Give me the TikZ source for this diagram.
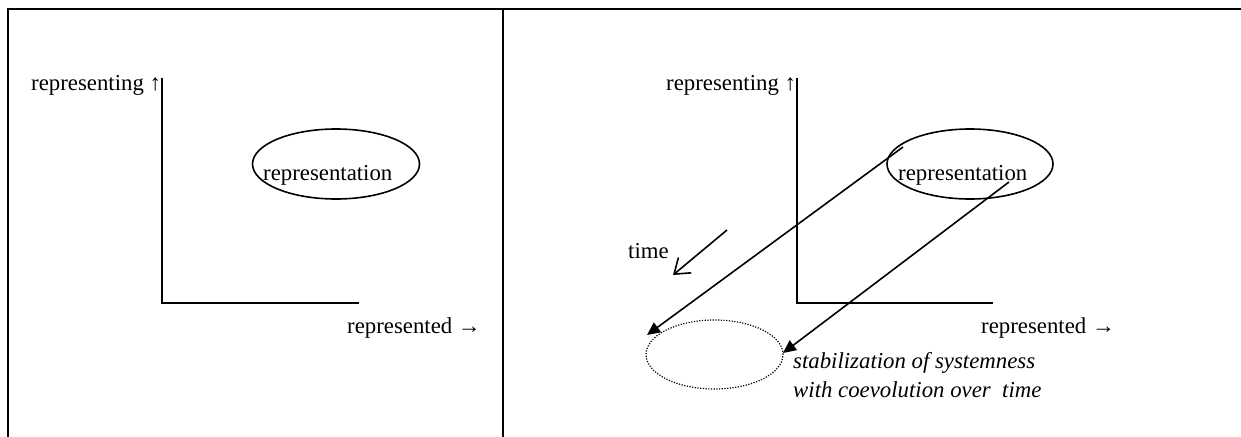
\documentclass[tikz,border=0pt]{standalone}
\usepackage{fontspec}
\setmainfont{Liberation Serif}
\usetikzlibrary{arrows.meta,shapes.geometric}
\begin{document}
\begin{tikzpicture}[x=1pt,y=-1pt,
  txt/.style={inner sep=0pt,font=\fontsize{22.8}{29}\selectfont},
  itxt/.style={inner sep=0pt,font=\fontsize{22.8}{29}\selectfont\itshape,align=left},
  frameline/.style={line width=2.4pt},
  axisline/.style={line width=2pt},
  oval/.style={draw,ellipse,line width=1.6pt,inner sep=0pt},
  dotoval/.style={draw,ellipse,line width=1.2pt,inner sep=0pt,dash pattern=on 1.2pt off 1.5pt},
  longarrow/.style={line width=1.6pt,-{Triangle[length=13pt,width=12pt]}},
  timearrow/.style={line width=1.6pt,-{Straight Barb[length=14pt,width=20pt]}}]
\useasboundingbox (0,0) rectangle (1241,436);
\fill[white] (0,0) rectangle (1241,436);
% frame
\coordinate (tl) at (8,9);
\coordinate (tr) at (1245,9);
\coordinate (bl) at (8,440);
\coordinate (mt) at (503,9);
\coordinate (mb) at (503,440);
\draw[frameline] (bl) -- (tl) -- (tr);
\draw[frameline] (mt) -- (mb);
% left panel
\coordinate (Ltop) at (162,78);
\coordinate (Lorig) at (162,303);
\coordinate (Lright) at (359,303);
\draw[axisline] (Ltop) -- (Lorig) -- (Lright);
\node[txt,anchor=base west] (Lrepg) at (31,90) {representing ↑};
\node[txt,anchor=base west] (Lrepd) at (347,333) {represented →};
\node[oval,minimum width=167pt,minimum height=70pt] (Lell) at (336,164) {};
\node[txt,anchor=base west] (Lrep) at (263,180) {representation};
% right panel
\coordinate (Rtop) at (797,78);
\coordinate (Rorig) at (797,303);
\coordinate (Rright) at (993,303);
\draw[axisline] (Rtop) -- (Rorig) -- (Rright);
\node[txt,anchor=base west] (Rrepg) at (666,90) {representing ↑};
\node[txt,anchor=base west] (Rrepd) at (981,333) {represented →};
\node[oval,minimum width=166pt,minimum height=70pt] (Rell) at (970,164) {};
\node[txt,anchor=base west] (Rrep) at (898,180) {representation};
\node[dotoval,minimum width=137pt,minimum height=69pt] (dot) at (714.5,354.5) {};
\node[txt,anchor=base west] (time) at (628,258) {time};
\coordinate (ts) at (727,230);
\coordinate (te) at (673,275);
\draw[timearrow] (ts) -- (te);
\coordinate (a1s) at (903,147);
\coordinate (a1e) at (647,335);
\coordinate (a2s) at (1009,182);
\coordinate (a2e) at (783,353);
\draw[longarrow] (a1s) -- (a1e);
\draw[longarrow] (a2s) -- (a2e);
\node[itxt,anchor=base west] (stab) at (793,397) {stabilization of systemness\\with coevolution over\ \ time};
\end{tikzpicture}
\end{document}
